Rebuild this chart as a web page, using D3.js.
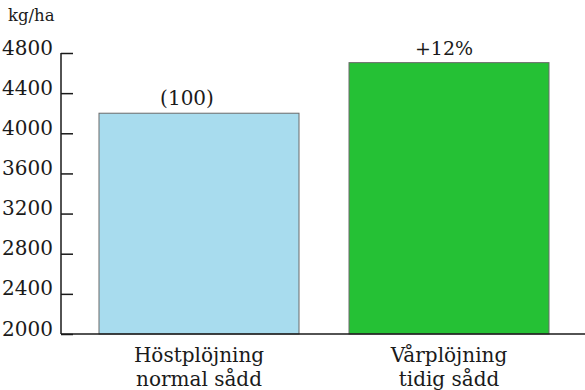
<!DOCTYPE html>
<html>
<head>
<meta charset="utf-8">
<script src="https://cdn.jsdelivr.net/npm/d3@7"></script>
<style>
  html, body { margin: 0; padding: 0; background: #fff; }
  svg { display: block; }
  svg text { font-family: "DejaVu Serif", serif; fill: #1a1a1a; }
</style>
</head>
<body>
<svg id="chart" width="585" height="390"></svg>
<script>
// Yield per ploughing/sowing strategy (kg/ha)
const categories = ["Höstplöjning\nnormal sådd", "Vårplöjning\ntidig sådd"];
const yields = [4200, 4704];
const valueLabels = ["(100)", "+12%"];
const barColors = ["#a8dcee", "#25c135"];
const yTicks = [2000, 2400, 2800, 3200, 3600, 4000, 4400, 4800];
const unitLabel = "kg/ha";

const svg = d3.select("#chart");
const axisX = 61, baseY = 334, topY = 53;

const x = d3.scaleBand()
  .domain(categories)
  .range([74, 574])
  .paddingInner(0.2)
  .paddingOuter(0.1);

const y = d3.scaleLinear()
  .domain([2000, 4800])
  .range([baseY, topY]);

// Bars
svg.append("g")
  .selectAll("rect")
  .data(categories)
  .join("rect")
  .attr("x", d => x(d))
  .attr("y", (d, i) => y(yields[i]))
  .attr("width", x.bandwidth())
  .attr("height", (d, i) => baseY - y(yields[i]))
  .attr("fill", (d, i) => barColors[i])
  .attr("stroke", "#6a6a6a")
  .attr("stroke-width", 1);

// Value labels above bars
const labelShift = [-12, -5];
const labelSize = [20, 19];
svg.append("g")
  .selectAll("text")
  .data(categories)
  .join("text")
  .attr("x", (d, i) => x(d) + x.bandwidth() / 2 + labelShift[i])
  .attr("y", (d, i) => y(yields[i]) - 8)
  .attr("text-anchor", "middle")
  .attr("font-size", (d, i) => labelSize[i])
  .text((d, i) => valueLabels[i]);

// Y axis: ticks drawn to the right of the axis line
const yAxis = d3.axisRight(y)
  .tickValues(yTicks)
  .tickSize(12)
  .tickPadding(0)
  .tickFormat(d3.format("d"));

const gy = svg.append("g")
  .attr("transform", `translate(${axisX},0)`)
  .call(yAxis)
  .attr("font-family", null)
  .attr("font-size", null);
gy.select(".domain").remove();
gy.selectAll(".tick line").attr("stroke", "#1a1a1a").attr("stroke-width", 1.5);
gy.selectAll(".tick text")
  .attr("x", -8)
  .attr("dy", "0")
  .attr("y", 1)
  .attr("text-anchor", "end")
  .attr("font-size", 20)
  .attr("fill", "#1a1a1a");

// Axis lines
svg.append("line")
  .attr("x1", axisX).attr("x2", axisX)
  .attr("y1", topY).attr("y2", baseY)
  .attr("stroke", "#1a1a1a").attr("stroke-width", 1.5);
svg.append("line")
  .attr("x1", axisX).attr("x2", 585)
  .attr("y1", baseY).attr("y2", baseY)
  .attr("stroke", "#1a1a1a").attr("stroke-width", 1.5);

// Unit label
svg.append("text")
  .attr("x", 8).attr("y", 21)
  .attr("font-size", 16.5)
  .text(unitLabel);

// Category labels (two lines each)
const cat = svg.append("g")
  .selectAll("text")
  .data(categories)
  .join("text")
  .attr("text-anchor", "middle")
  .attr("font-size", 20)
  .attr("x", d => x(d) + x.bandwidth() / 2)
  .attr("y", 362);
cat.selectAll("tspan")
  .data(d => d.split("\n"))
  .join("tspan")
  .attr("x", function() { return this.parentNode.getAttribute("x"); })
  .attr("dy", (d, i) => i === 0 ? 0 : 24)
  .text(d => d);
</script>
</body>
</html>
